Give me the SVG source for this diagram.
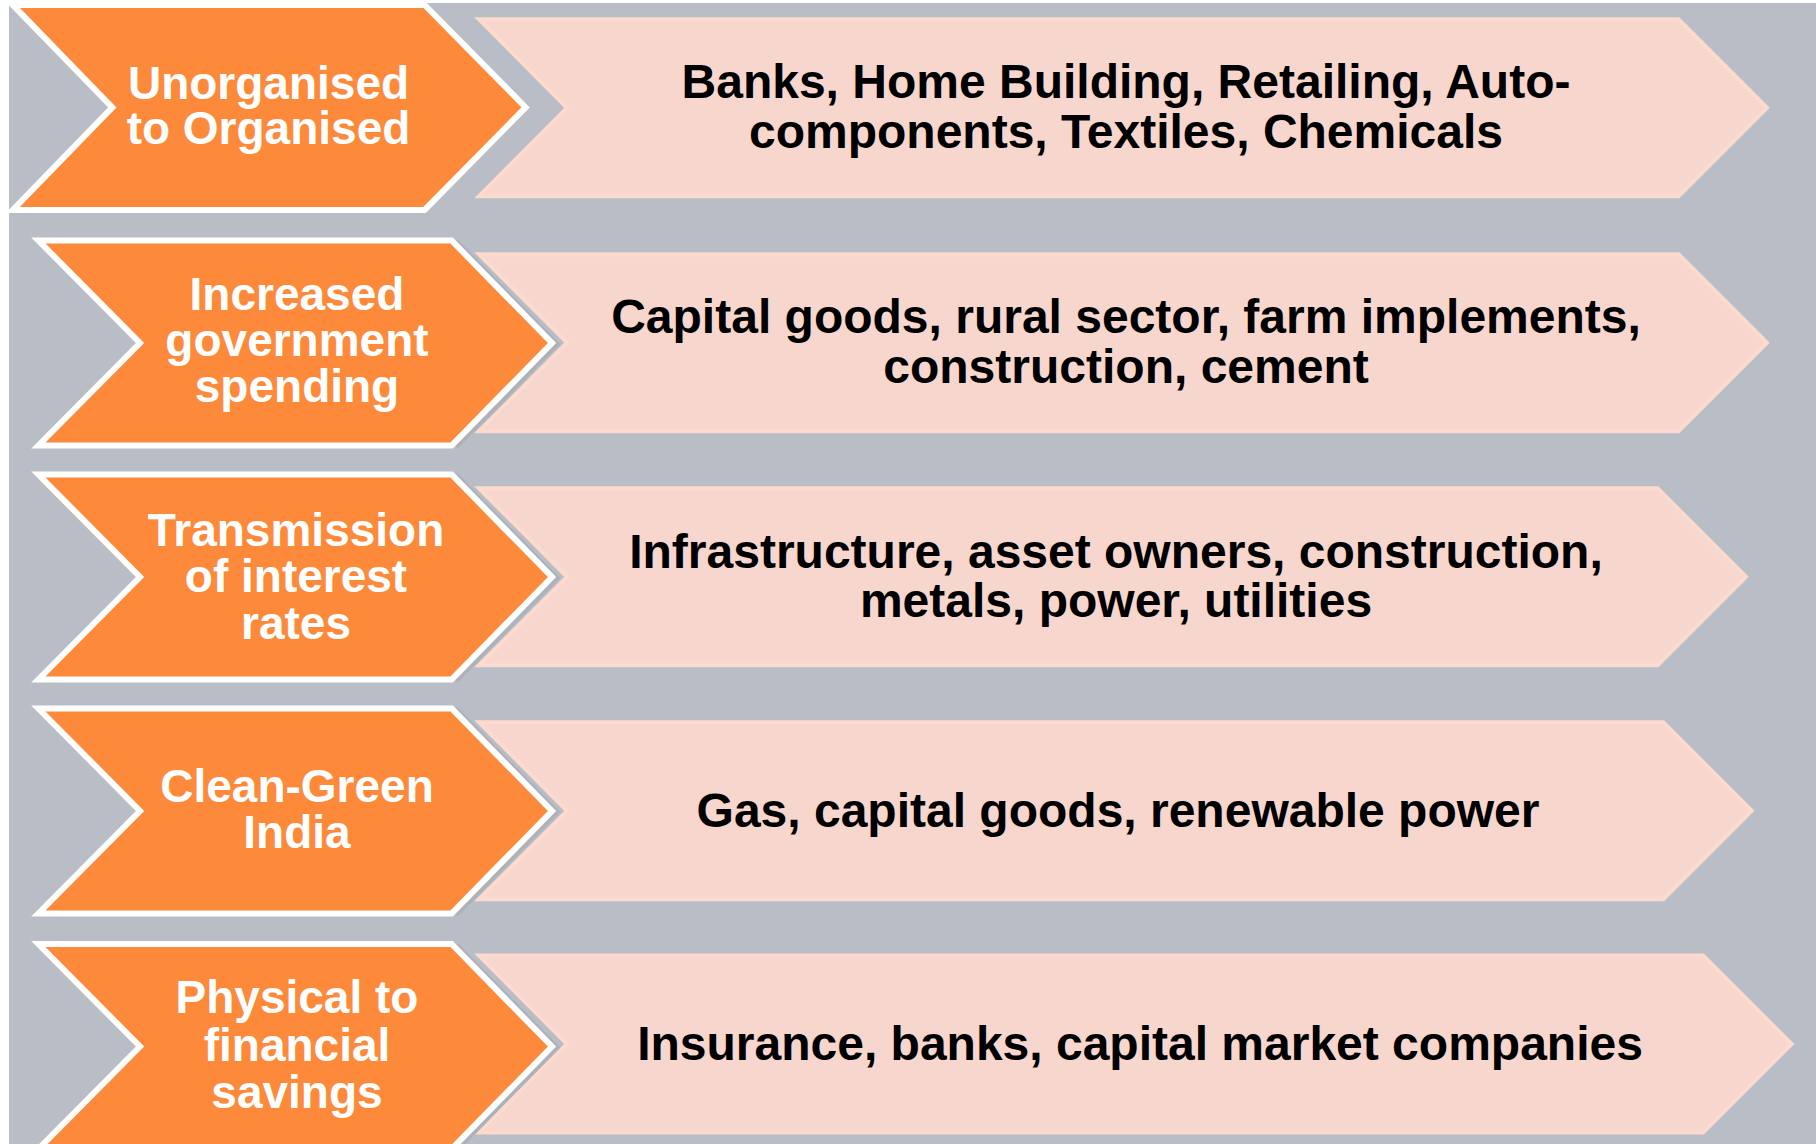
<svg xmlns="http://www.w3.org/2000/svg" width="1816" height="1144" viewBox="0 0 1816 1144">
  <style>
    .bg { fill: #B9BDC6; }
    .sector { fill: #F7D6CD; stroke: #FCDACE; stroke-width: 4; stroke-linejoin: miter; }
    .shadow { fill: none; stroke: #ADB1BA; stroke-width: 6; }
    .driver { fill: #FD8A3B; stroke: #FFFFFF; stroke-width: 6; stroke-linejoin: miter; }
    .dtext { font-family: "Liberation Sans", Arial, sans-serif; font-weight: bold; font-size: 46px; fill: #FFFFFF; text-anchor: middle; }
    .stext { font-family: "Liberation Sans", Arial, sans-serif; font-weight: bold; font-size: 48px; fill: #000000; text-anchor: middle; }
  </style>
  <rect x="0" y="0" width="1816" height="1144" fill="#FFFFFF"/>
  <rect class="bg" x="9" y="3" width="1807" height="1141"/>

  <g id="connectors"></g>

  <!-- Sector arrows (pink) -->
  <g id="sector-1">
    <polygon class="sector" points="479,19.3 1678.5,19.3 1767,107.8 1678.5,196.3 479,196.3 567,107.8"/>
    <text class="stext"><tspan x="1126" y="98.4">Banks, Home Building, Retailing, Auto-</tspan><tspan x="1126" y="148.4">components, Textiles, Chemicals</tspan></text>
  </g>
  <g id="sector-2">
    <polygon class="sector" points="479,254.2 1678.5,254.2 1767,342.7 1678.5,431.2 479,431.2 567,342.7"/>
    <text class="stext"><tspan x="1126" y="333">Capital goods, rural sector, farm implements,</tspan><tspan x="1126" y="382.5">construction, cement</tspan></text>
  </g>
  <g id="sector-3">
    <polygon class="sector" points="479,488.3 1657.5,488.3 1746,576.8 1657.5,665.3 479,665.3 567,576.8"/>
    <text class="stext"><tspan x="1116" y="567.5">Infrastructure, asset owners, construction,</tspan><tspan x="1116" y="617">metals, power, utilities</tspan></text>
  </g>
  <g id="sector-4">
    <polygon class="sector" points="479,722.3 1663.2,722.3 1751.7,810.8 1663.2,899.3 479,899.3 567,810.8"/>
    <text class="stext" x="1118" y="826.7">Gas, capital goods, renewable power</text>
  </g>
  <g id="sector-5">
    <polygon class="sector" points="479,955.5 1703.2,955.5 1791.7,1044 1703.2,1132.5 479,1132.5 567,1044"/>
    <text class="stext" x="1140" y="1059.5">Insurance, banks, capital market companies</text>
  </g>

  <!-- Driver chevrons (orange) -->
  <g id="driver-1">
    <polygon class="driver" points="12.8,4.9 424.6,4.9 525.6,107.4 424.6,209.9 12.8,209.9 112.3,107.4"/>
    <text class="dtext"><tspan x="268.5" y="99">Unorganised</tspan><tspan x="268.5" y="144">to Organised</tspan></text>
  </g>
  <g id="driver-2">
    <polyline class="shadow" points="455.6,241.5 556,344 455.6,446.5"/>
    <polygon class="driver" points="38.4,240.5 451.6,240.5 552,343 451.6,445.5 38.4,445.5 140,343"/>
    <text class="dtext"><tspan x="297" y="310">Increased</tspan><tspan x="297" y="356">government</tspan><tspan x="297" y="401.7">spending</tspan></text>
  </g>
  <g id="driver-3">
    <polyline class="shadow" points="455.6,475.5 556,578 455.6,680.5"/>
    <polygon class="driver" points="38.4,474.5 451.6,474.5 552,577 451.6,679.5 38.4,679.5 140,577"/>
    <text class="dtext"><tspan x="296" y="545.5">Transmission</tspan><tspan x="296" y="591.5">of interest</tspan><tspan x="296" y="638.5">rates</tspan></text>
  </g>
  <g id="driver-4">
    <polyline class="shadow" points="455.6,709.5 556,812 455.6,914.5"/>
    <polygon class="driver" points="38.4,708.5 451.6,708.5 552,811 451.6,913.5 38.4,913.5 140,811"/>
    <text class="dtext"><tspan x="297" y="802.3">Clean-Green</tspan><tspan x="297" y="848.3">India</tspan></text>
  </g>
  <g id="driver-5">
    <polyline class="shadow" points="455.6,945 556,1047.5 455.6,1150"/>
    <polygon class="driver" points="38.4,944 451.6,944 552,1046.5 451.6,1149 38.4,1149 140,1046.5"/>
    <text class="dtext"><tspan x="297" y="1013.3">Physical to</tspan><tspan x="297" y="1060.8">financial</tspan><tspan x="297" y="1108.2">savings</tspan></text>
  </g>
</svg>
